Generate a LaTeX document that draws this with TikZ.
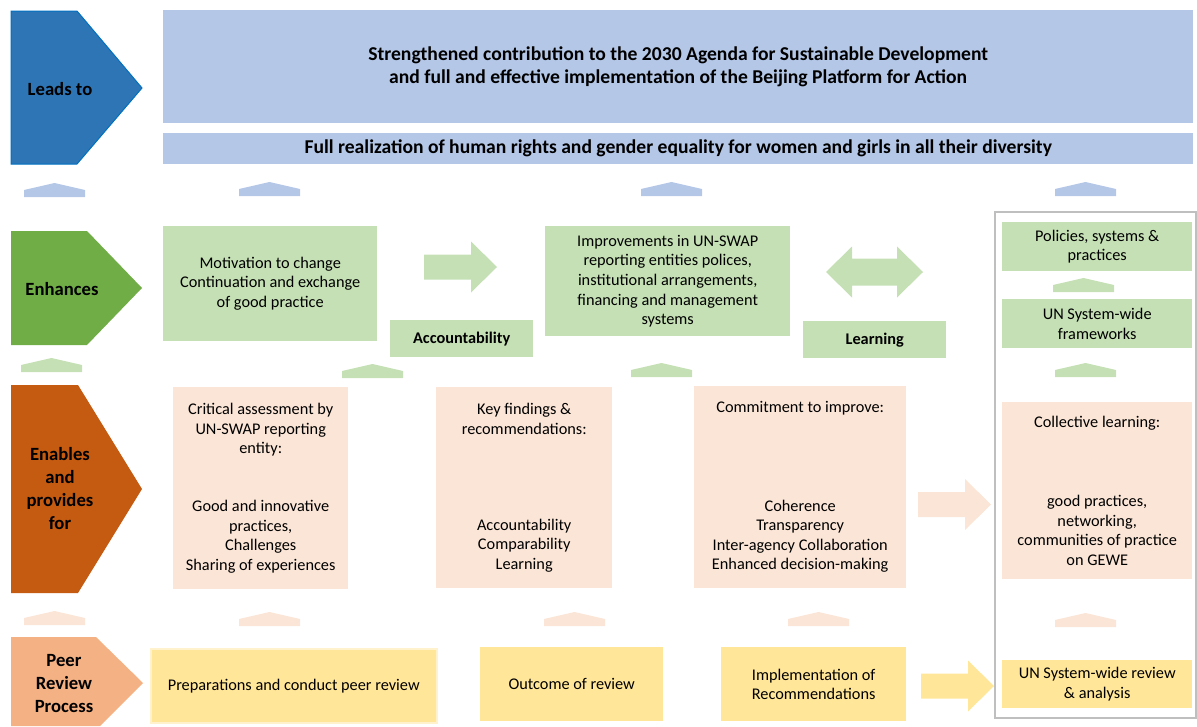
\documentclass[tikz,border=0pt]{standalone}
\usepackage{fontspec}
\setmainfont{Carlito}

\definecolor{leadblue}{HTML}{2E75B6}
\definecolor{leadedge}{HTML}{0070C0}
\definecolor{paleblue}{HTML}{B4C7E7}
\definecolor{enhgreen}{HTML}{70AD47}
\definecolor{palegreen}{HTML}{C5E0B4}
\definecolor{enabrown}{HTML}{C55A11}
\definecolor{palepeach}{HTML}{FBE5D6}
\definecolor{peerorange}{HTML}{F4B183}
\definecolor{paleyellow}{HTML}{FFE699}
\definecolor{yellowedge}{HTML}{FFF2CC}
\definecolor{framegrey}{HTML}{BFBFBF}

\newcommand\bodyfont{\fontsize{16.3}{19.6}\selectfont}
\newcommand\headfont{\fontsize{18.67}{23}\selectfont\bfseries}
\newcommand\goalfont{\fontsize{19.6}{23}\selectfont\bfseries}

\begin{document}
\begin{tikzpicture}[x=1pt,y=-1pt,
    box/.style={anchor=north west,inner sep=0pt,align=center,font=\bodyfont},
    tag/.style={align=center,inner sep=0pt,font=\headfont},
    greenbox/.style={box,fill=palegreen},
    peachbox/.style={box,fill=palepeach},
    yellowbox/.style={box,fill=paleyellow}]
    %\draw[help lines,step=100] (0,0) grid (1197,726);
    \useasboundingbox (0,0) rectangle (1197,726);

    % row labels
    \fill[leadblue,draw=leadedge,line width=1pt] (11,11) -- (77,11) -- (142,88) -- (77,164) -- (11,164) -- cycle;
    \node[tag] (leads) at (60,89) {Leads to};
    \fill[enhgreen] (11,231) -- (87,231) -- (142,288) -- (87,345) -- (11,345) -- cycle;
    \node[tag] (enhances) at (62,289) {Enhances};
    \fill[enabrown] (11,385) -- (78,385) -- (142,489) -- (78,593) -- (11,593) -- cycle;
    \node[tag] (enables) at (60,489) {Enables\\and\\provides\\for};
    \fill[peerorange] (11,637) -- (96,637) -- (143,683) -- (100,726) -- (11,726) -- cycle;
    \node[tag] (peer) at (64,684) {Peer\\Review\\Process};

    % goals
    \node[box,fill=paleblue,font=\goalfont,minimum width=1030pt,minimum height=113pt] (agenda) at (163,10)
        {Strengthened contribution to the 2030 Agenda for Sustainable Development\\and full and effective implementation of the Beijing Platform for Action};
    \node[box,fill=paleblue,font=\goalfont,minimum width=1030pt,minimum height=31pt] (rights) at (163,133)
        {Full realization of human rights and gender equality for women and girls in all their diversity};

    % enhances
    \node[greenbox,minimum width=214pt,minimum height=115pt] (motivation) at (163,226)
        {Motivation to change\\Continuation and exchange\\of good practice};
    \node[greenbox,minimum width=245pt,minimum height=110pt] (improve) at (545,226)
        {Improvements in UN-SWAP\\reporting entities polices,\\institutional arrangements,\\financing and management\\systems};
    \node[greenbox,font=\bodyfont\bfseries,minimum width=143pt,minimum height=37pt] (account) at (390,320) {Accountability};
    \node[greenbox,font=\bodyfont\bfseries,minimum width=143pt,minimum height=37pt] (learning) at (803,321) {Learning};

    % enables
    \node[peachbox,minimum width=175pt,minimum height=202pt] (critical) at (173,387)
        {Critical assessment by\\UN-SWAP reporting\\entity:\\[38.5pt]Good and innovative\\practices,\\Challenges\\Sharing of experiences};
    \node[peachbox,minimum width=176pt,minimum height=201pt] (findings) at (436,387)
        {Key findings \&\\recommendations:\\[76.5pt]Accountability\\Comparability\\Learning};
    \node[peachbox,minimum width=212pt,minimum height=202pt] (commit) at (694,386)
        {Commitment to improve:\\[78.5pt]Coherence\\Transparency\\Inter-agency Collaboration\\Enhanced decision-making};

    % peer review process
    \node[yellowbox,draw=yellowedge,line width=1.5pt,minimum width=286pt,minimum height=74pt] (prepare) at (150,648)
        {Preparations and conduct peer review};
    \node[yellowbox,minimum width=183pt,minimum height=74pt] (outcome) at (480,647) {Outcome of review};
    \node[yellowbox,minimum width=185pt,minimum height=74pt] (implement) at (721,647)
        {Implementation of\\Recommendations};

    % system-wide column
    \draw[framegrey,line width=2pt] (995,212) rectangle (1195.5,718);
    \node[greenbox,minimum width=190pt,minimum height=49pt] (policies) at (1002,222) {Policies, systems \&\\practices};
    \node[greenbox,minimum width=190pt,minimum height=49pt] (frameworks) at (1002,299) {UN System-wide\\frameworks};
    \node[peachbox,minimum width=190pt,minimum height=177pt] (collective) at (1002,402)
        {Collective learning:\\[59.5pt]good practices,\\networking,\\communities of practice\\on GEWE};
    \node[yellowbox,minimum width=190pt,minimum height=48pt] (swreview) at (1002,660) {UN System-wide review\\\& analysis};

    % small up chevrons
    \foreach \x/\y in {24/197, 239/196, 641/196, 1055/196}
        \fill[paleblue] (\x,\y) -- ++(0,-7) -- ++(30.5,-7) -- ++(30.5,7) -- ++(0,7) -- cycle;
    \foreach \x/\y in {21/372, 342/378, 631/377, 1053/292, 1055/377}
        \fill[palegreen] (\x,\y) -- ++(0,-7) -- ++(30.5,-7) -- ++(30.5,7) -- ++(0,7) -- cycle;
    \foreach \x/\y in {24/625, 239/626, 544/626, 788/626, 1055/627}
        \fill[palepeach] (\x,\y) -- ++(0,-7) -- ++(30.5,-7) -- ++(30.5,7) -- ++(0,7) -- cycle;

    % block arrows
    \foreach \x/\y/\c in {424/267/palegreen, 918/504.5/palepeach, 921/686/paleyellow}
        \fill[\c] (\x,\y) ++(0,-12.5) -- ++(47,0) -- ++(0,-13) -- ++(26,25.5) -- ++(-26,25.5)
            -- ++(0,-13) -- ++(-47,0) -- cycle;
    \fill[palegreen] (826,272) -- (852,246.5) -- (852,258.5) -- (897,258.5) -- (897,246.5) -- (923,272)
        -- (897,297.5) -- (897,285.5) -- (852,285.5) -- (852,297.5) -- cycle;
\end{tikzpicture}
\end{document}
